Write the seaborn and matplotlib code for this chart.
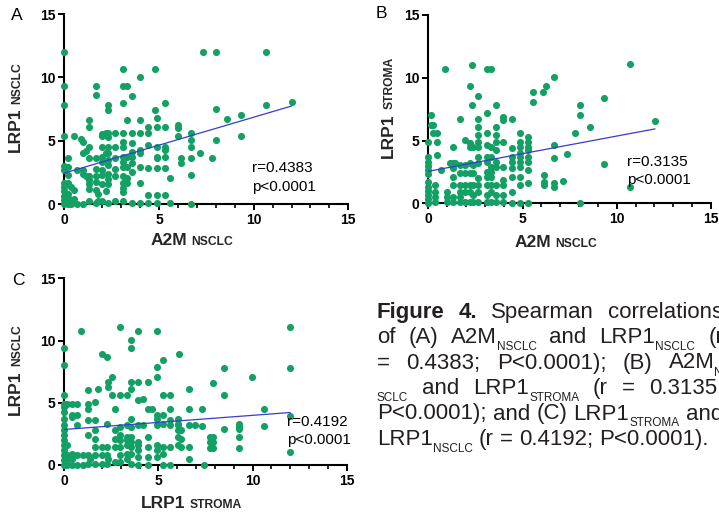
import matplotlib
matplotlib.use("Agg")
import matplotlib.pyplot as plt
from matplotlib.ticker import MultipleLocator
import seaborn as sns
import pandas as pd

# values, grouped by x value: (x, [y, y, ...])
a2m_vs_lrp1_nsclc = [
    (0, [12, 9.33, 7.8, 5.33, 3.0, 2.67, 1.67, 1.33, 1.0, 0.67, 0.33, 0]),
    (0.2, [3.6, 2.9, 2.3, 1.67, 0.8, 0.5, 0.2, 0]),
    (0.33, [1.33, 0.33, 0]),
    (0.5, [5.33, 1.1, 0.4]),
    (0.67, [2.67, 0]),
    (0.9, [5.1]),
    (1.0, [4.9, 4.0, 2.67, 2.33, 0]),
    (1.15, [4.2, 2.2]),
    (1.33, [6.67, 6.1, 4.5, 3.67, 2.2, 1.9, 1.6, 1.2, 0.2]),
    (1.67, [9.33, 8.6, 3.6, 2.8, 2.2, 1.76, 1.1, 0.1]),
    (1.8, [0.8, 0.2]),
    (2.0, [5.5, 5.33, 4.5, 3.7, 3.3, 2.7, 2.3, 1.6, 0.2]),
    (2.2, [5.5, 5.58, 4.0, 1.0]),
    (2.33, [7.8, 7.4, 5.58, 5.3, 4.5, 4.0, 3.5, 3.1, 2.4, 2.0, 1.6, 0.1]),
    (2.67, [5.58, 4.5, 3.6, 2.8, 2.2, 0.2]),
    (3.1, [10.67, 9.33, 8.0, 5.58, 4.9, 4.5, 3.74, 3.34, 2.95, 2.2, 1.63, 1.24, 0.97, 0.2]),
    (3.33, [9.33, 6.67, 3.7, 2.95, 2.03, 1.63]),
    (3.56, [8.5, 5.58, 4.8, 4.13, 3.74, 3.2, 2.55, 0.05]),
    (4.0, [10.0, 6.67, 5.58, 4.26, 4.0, 2.95, 1.63, 0.05]),
    (4.44, [6.1, 5.58, 4.66, 2.82, 0.71, 0.05]),
    (4.8, [10.67, 7.42]),
    (4.88, [6.76, 6.1, 4.53, 3.74, 3.6, 2.82, 0.71, 0.05]),
    (5.32, [8.0, 6.1, 4.53, 4.26, 3.74, 2.82, 0.71]),
    (5.58, [2.03, 0.05]),
    (6.0, [6.2, 6.0, 5.4]),
    (6.15, [3.2, 3.6]),
    (6.67, [5.58, 5.05, 4.53, 3.61, 2.3, 0]),
    (7.15, [4.0]),
    (7.33, [12]),
    (7.78, [3.6]),
    (8.0, [12, 7.5, 5.05]),
    (8.58, [6.7]),
    (9.33, [7.0, 5.37]),
    (10.67, [12, 7.8]),
    (12.0, [8.07]),
]

a2m_vs_lrp1_stroma = [
    (0, [4.9, 3.72, 3.32, 3.0, 2.66, 2.33, 1.67, 1.33, 1.0, 0.67, 0.33, 0]),
    (0.12, [7.04, 6.24]),
    (0.27, [6.24, 5.63]),
    (0.35, [1.46, 0.93, 0.53, 0.13]),
    (0.44, [5.58, 4.91, 3.85]),
    (0.67, [2.66]),
    (0.88, [10.68]),
    (0.97, [0.93, 0.53, 0.13]),
    (1.15, [3.19]),
    (1.33, [4.52, 3.19, 2.79, 2.12, 1.46, 0.53, 0.13]),
    (1.41, [3.19]),
    (1.68, [6.72, 3.05, 2.39, 1.46, 0.93, 0.53, 0.13]),
    (1.95, [5.05, 3.05, 2.39, 1.46, 0.93, 0.13]),
    (2.21, [9.35, 4.78, 4.52, 3.19, 2.39, 1.46, 0.93, 0.13]),
    (2.33, [11.02, 7.84]),
    (2.39, [4.52, 3.05, 2.39, 1.46, 0.66, 0.13]),
    (2.65, [8.55, 6.72, 6.11, 5.44, 4.91, 4.52, 3.72, 3.19, 1.99, 1.46, 0.93, 0.13]),
    (3.09, [10.68, 7.17, 5.58, 4.65, 3.72, 3.32, 2.52, 2.12, 1.46, 0.66, 0.13]),
    (3.32, [10.68, 4.52, 3.72, 2.92, 2.52, 2.12, 1.46, 0.93, 0.13]),
    (3.59, [7.84, 6.11, 5.44, 4.91, 4.25, 3.32, 2.92, 1.46, 0.66, 0.13]),
    (3.98, [6.9, 6.6, 4.91, 2.92, 1.86, 1.46, 0.66, 0.13]),
    (4.42, [6.72, 4.38, 3.72, 3.32, 2.79, 2.12, 0.93, 0]),
    (4.86, [5.58, 4.91, 4.52, 3.98, 3.72, 3.32, 2.92, 2.12, 1.46, 0]),
    (5.31, [5.31, 4.91, 4.52, 4.25, 3.72, 3.32, 2.66, 1.59, 0]),
    (5.57, [8.9, 8.1]),
    (6.07, [8.9]),
    (6.14, [2.26, 1.73, 1.46]),
    (6.24, [9.38]),
    (6.68, [10.09, 4.65, 3.59, 1.59, 1.33]),
    (7.16, [1.78]),
    (7.34, [3.9]),
    (7.78, [5.6]),
    (8.05, [7.8, 7.0, 0]),
    (8.58, [6.1]),
    (9.34, [8.37, 3.13]),
    (10.7, [11.07, 1.33]),
    (12.03, [6.56]),
]

stroma_vs_nsclc = [
    (0, [9.4, 8.06, 5.6, 4.93, 4.66, 4.26, 3.72, 3.19, 2.78, 2.38, 1.98, 1.58, 1.18, 0.78, 0.37, 0]),
    (0.13, [4.93, 1.58, 0.78, 0.37, 0]),
    (0.39, [4.93, 3.99, 3.86, 0.91, 0.51, 0]),
    (0.66, [4.93, 3.99, 3.19, 0.78, 0]),
    (0.87, [10.74]),
    (1.01, [0.78, 0]),
    (1.28, [6.0, 4.93, 4.52, 3.59, 2.38, 0.78, 0.11]),
    (1.36, [0.51]),
    (1.63, [5.06, 3.59, 2.78, 2.12, 1.45, 0.78, 0.11]),
    (1.77, [6.13]),
    (1.98, [8.94, 1.45, 0.78, 0.11]),
    (2.25, [8.67, 3.32, 1.45, 0.78, 0.11]),
    (2.34, [6.67, 6.27, 0.51]),
    (2.51, [7.07, 5.6]),
    (2.69, [4.52, 2.78, 2.12, 1.45, 0.24]),
    (2.96, [11.08, 5.6, 3.05, 2.38, 1.98, 1.45, 0.78, 0.24]),
    (3.31, [5.6, 3.19, 2.25, 1.98, 1.58, 0.91, 0.51]),
    (3.54, [10.01, 9.4, 6.67, 6.13, 3.72, 3.05, 2.25, 1.85, 1.45, 0.91, 0.11]),
    (3.93, [10.74, 6.67, 5.19, 3.19, 1.85, 1.58, 1.18, 0.64, 0.03]),
    (4.2, [5.33, 3.19]),
    (4.46, [6.67, 4.52, 2.25, 1.45, 0.64, 0.03]),
    (4.64, [4.52]),
    (4.9, [10.74, 7.87, 7.07, 3.99, 3.72, 3.19, 1.58, 1.18, 0.64]),
    (5.26, [8.41, 5.6, 3.99, 3.32, 1.45, 0.91, 0.03]),
    (5.61, [5.6, 4.52, 3.59, 3.19, 1.45, 0.03]),
    (6.05, [3.72, 3.32, 3.19, 2.78, 2.25, 1.58]),
    (6.09, [8.94]),
    (6.2, [2.78, 2.12, 1.45]),
    (6.64, [6.13, 4.52, 3.19, 1.45, 0.51]),
    (6.94, [3.19]),
    (7.29, [4.47, 3.13]),
    (7.4, [0]),
    (7.75, [2.25, 1.85, 1.37]),
    (7.92, [6.6, 2.25, 1.85, 1.37]),
    (8.5, [7.8, 5.6, 2.87]),
    (9.3, [3.3, 3.13, 2.9, 2.25, 1.37]),
    (9.95, [7.05]),
    (10.6, [4.47, 3.13]),
    (12.0, [11.08, 7.8, 3.93, 1.04]),
]

axis_ticks = [0, 5, 10, 15]
r_values = ["0.4383", "0.3135", "0.4192"]
p_label = "p<0.0001"

caption_lines = [
    [[("Figure", "b")], [("4.", "b")], [("Spearman", "r")], [("correlations", "r")]],
    [[("of", "r")], [("(A)", "r")], [("A2M", "r"), ("NSCLC", "s")], [("and", "r")],
     [("LRP1", "r"), ("NSCLC", "s")], [("(r", "r")]],
    [[("=", "r")], [("0.4383;", "r")], [("P<0.0001);", "r")], [("(B)", "r")], [("A2M", "r"), ("N", "s")]],
    [[("SCLC", "s")], [("and", "r")], [("LRP1", "r"), ("STROMA", "s")], [("(r", "r")], [("=", "r")],
     [("0.3135;", "r")]],
    [[("P<0.0001);", "r")], [("and", "r")], [("(C)", "r")], [("LRP1", "r"), ("STROMA", "s")], [("and", "r")]],
    [[("LRP1", "r"), ("NSCLC", "s")], [("(r", "r")], [("=", "r")], [("0.4192;", "r")], [("P<0.0001).", "r")]],
]

GREEN = "#12a064"
BLUE = "#3a3ad0"
W, H = 719, 519


def to_frame(cols, xname, yname):
    rows = [(x, y) for x, ys in cols for y in ys]
    return pd.DataFrame(rows, columns=[xname, yname])


sns.set_theme(style="ticks")
plt.rcParams["font.family"] = ["Liberation Sans", "DejaVu Sans"]

fig = plt.figure(figsize=(W / 100, H / 100), dpi=100)
renderer = fig.canvas.get_renderer()


def put(x, y, s, **kw):
    return fig.text(x / W, 1 - y / H, s, **kw)


def wpx(t):
    return t.get_window_extent(renderer).width


def hpx(t):
    return t.get_window_extent(renderer).height


def xlabel_two(cx, base, big, small):
    t1 = put(0, base, big, fontsize=12.5, fontweight="bold", ha="left", va="baseline")
    t2 = put(0, base, small, fontsize=8.7, fontweight="bold", ha="left", va="baseline")
    gap = 4
    x0 = cx - (wpx(t1) + gap + wpx(t2)) / 2
    t1.set_x(x0 / W)
    t2.set_x((x0 + wpx(t1) + gap) / W)


def ylabel_two(xb, cy, big, small):
    kw = dict(fontweight="bold", rotation=90, rotation_mode="anchor", ha="left", va="baseline")
    t1 = put(xb, 0, big, fontsize=12.5, **kw)
    t2 = put(xb, 0, small, fontsize=8.7, **kw)
    gap = 4
    h1, h2 = hpx(t1), hpx(t2)
    y0 = cy + (h1 + gap + h2) / 2
    t1.set_y(1 - y0 / H)
    t2.set_y(1 - (y0 - h1 - gap) / H)


panels = [
    dict(cols=a2m_vs_lrp1_nsclc, xn="A2M_NSCLC", yn="LRP1_NSCLC", box=(64.3, 14, 348.3, 204),
         letter="A", letter_xy=(11, 20), xl=("A2M", "NSCLC", 245), yl=("LRP1", "NSCLC", 20),
         stat_xy=(252, 172, 191)),
    dict(cols=a2m_vs_lrp1_stroma, xn="A2M_NSCLC", yn="LRP1_STROMA", box=(428.3, 15, 711, 203.3),
         letter="B", letter_xy=(376, 18), xl=("A2M", "NSCLC", 247), yl=("LRP1", "STROMA", 393),
         stat_xy=(627, 166, 184)),
    dict(cols=stroma_vs_nsclc, xn="LRP1_STROMA", yn="LRP1_NSCLC", box=(64.3, 278.3, 346.7, 465),
         letter="C", letter_xy=(12, 285), xl=("LRP1", "STROMA", 508), yl=("LRP1", "NSCLC", 20),
         stat_xy=(287, 426, 444)),
]

for i, p in enumerate(panels):
    df = to_frame(p["cols"], p["xn"], p["yn"])
    left, top, right, bottom = p["box"]
    ax = fig.add_axes([left / W, 1 - bottom / H, (right - left) / W, (bottom - top) / H])
    sns.scatterplot(data=df, x=p["xn"], y=p["yn"], ax=ax, color=GREEN, s=26, linewidth=0,
                    zorder=3, clip_on=False, legend=False)
    sns.regplot(data=df, x=p["xn"], y=p["yn"], ax=ax, scatter=False, ci=None,
                line_kws=dict(color=BLUE, lw=0.9, zorder=4))
    ax.set_xlim(0, 15)
    ax.set_ylim(0, 15)
    ax.set_xticks(axis_ticks)
    ax.set_yticks(axis_ticks)
    ax.xaxis.set_minor_locator(MultipleLocator(1))
    ax.set_xlabel("")
    ax.set_ylabel("")
    sns.despine(ax=ax)
    for s in ("left", "bottom"):
        ax.spines[s].set_linewidth(1.5)
        ax.spines[s].set_color("black")
    ax.tick_params(which="major", length=4.5, width=1.4, pad=2, labelsize=10, colors="black")
    ax.tick_params(which="minor", length=3, width=1.2, colors="black")
    for lab in ax.get_xticklabels() + ax.get_yticklabels():
        lab.set_fontweight("bold")

    lx, ly = p["letter_xy"]
    put(lx, ly, p["letter"], fontsize=12.5, ha="left", va="baseline", color="black")
    big, small, base = p["xl"]
    xlabel_two(left + 0.45 * (right - left), base, big, small)
    big, small, xb = p["yl"]
    ylabel_two(xb, (top + bottom) / 2 - 2, big, small)
    sx, ry, py = p["stat_xy"]
    put(sx, ry, "r=" + r_values[i], fontsize=11, ha="left", va="baseline", color="black")
    put(sx, py, p_label, fontsize=11, ha="left", va="baseline", color="black")

# caption, justified between the column edges (right edge lies just outside the image)
CAP_L, CAP_R = 377, 723
CAP_COLOR = "#231f20"
styles = {"b": dict(fontsize=16, fontweight="bold"), "r": dict(fontsize=16),
          "s": dict(fontsize=8.5)}
baselines = [318, 343, 368.5, 394, 419.5, 445]

for li, (line, base) in enumerate(zip(caption_lines, baselines)):
    words = []
    for word in line:
        parts = []
        for text, st in word:
            off = 7 if st == "s" else 0
            t = put(0, base + off, text, ha="left", va="baseline", color=CAP_COLOR, **styles[st])
            parts.append((t, wpx(t)))
        words.append(parts)
    widths = [sum(w for _, w in parts) for parts in words]
    if li < len(caption_lines) - 1:
        gap = max((CAP_R - CAP_L - sum(widths)) / (len(words) - 1), 3)
    else:
        gap = 6
    x = CAP_L
    for parts, wd in zip(words, widths):
        xx = x
        for t, w in parts:
            t.set_x(xx / W)
            xx += w
        x += wd + gap

fig.savefig("out.png", dpi=100)
